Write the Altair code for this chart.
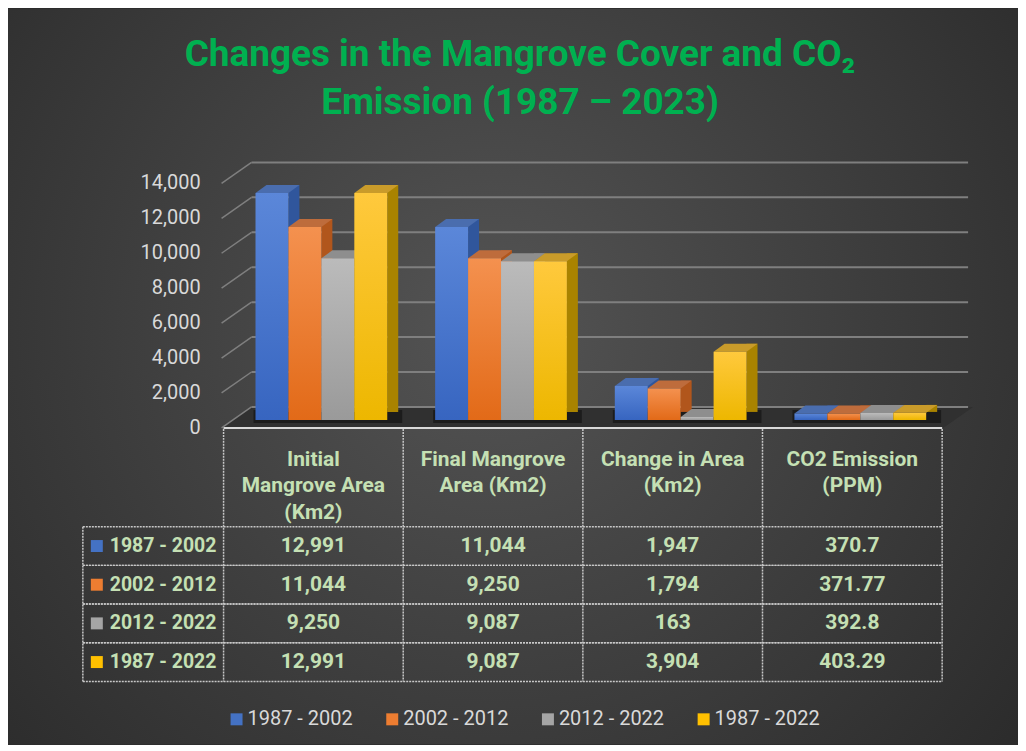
import altair as alt
import pandas as pd

# ---------------- data ----------------
categories = ["Initial Mangrove Area (Km2)", "Final Mangrove Area (Km2)",
              "Change in Area (Km2)", "CO2 Emission (PPM)"]
category_headers = ["Initial\nMangrove Area\n(Km2)", "Final Mangrove\nArea (Km2)",
                    "Change in Area\n(Km2)", "CO2 Emission\n(PPM)"]
periods = ["1987 - 2002", "2002 - 2012", "2012 - 2022", "1987 - 2022"]
initial_area = [12991, 11044, 9250, 12991]
final_area = [11044, 9250, 9087, 9087]
change_area = [1947, 1794, 163, 3904]
co2_emission = [370.7, 371.77, 392.8, 403.29]
y_ticks = [0, 2000, 4000, 6000, 8000, 10000, 12000, 14000]
title_lines = ["Changes in the Mangrove Cover and CO\u2082", "Emission (1987 \u2013 2023)"]

# ---------------- styles ----------------
FONT = "Roboto, 'Liberation Sans', sans-serif"
period_colors = ["#4472C4", "#ED7D31", "#A5A5A5", "#FFC000"]
front_top = ["#5B87D9", "#F4914F", "#BBBBBB", "#FFC93D"]
front_bottom = ["#3765C0", "#E26A18", "#9A9A9A", "#EDB700"]
side_cols = ["#30569C", "#B1561C", "#7A7A7A", "#A98300"]
top_cols = ["#4A6DAE", "#BE6C3C", "#8E8E8E", "#C99B2A"]
TABLE_TXT = "#C5E0B4"
GRID = "#7f7f7f"
TBL_LINE = "#c8c8c8"
TBL_FS = 21

W, H = 1012, 737
OFF = 8


def px(v):
    return v - OFF


SLOT, PAD, BW, DX, DY = 180, 32, 33, 11, 8

# ---------------- tables ----------------
series_values = [initial_area, final_area, change_area, co2_emission]
rows = []
for ci, (cat, vals) in enumerate(zip(categories, series_values)):
    for si, p in enumerate(periods):
        rows.append({"cat": cat, "ci": ci, "period": p, "si": si,
                     "value": vals[si], "label": f"{vals[si]:,}"})
df = pd.DataFrame(rows)
df_ticks = pd.DataFrame({"tick": y_ticks})
df_head = pd.DataFrame({"ci": list(range(len(categories))), "header": category_headers})
df_per = pd.DataFrame({"period": periods})
df_b = pd.DataFrame({"b": list(range(len(categories) + 1))})
one = pd.DataFrame({"a": [0]})

xs = alt.Scale(domain=[0, len(categories)], range=[px(224), px(944)], nice=False, zero=False)
ys = alt.Scale(domain=[0, 14000], range=[px(420), px(175)], nice=False)
yr = alt.Scale(type="band", domain=periods, range=[px(527), px(682)],
               paddingInner=0, paddingOuter=0)

base = alt.Chart(df).transform_calculate(
    x0=f"datum.ci + ({PAD} + {BW}*datum.si)/{SLOT}",
    x1=f"datum.ci + ({PAD} + {BW}*(datum.si+1))/{SLOT}",
    xc="datum.ci + 0.5",
)

# background
bg = alt.Chart(one).mark_rect(
    color=alt.RadialGradient(
        gradient="radial",
        stops=[alt.GradientStop(color="#545454", offset=0),
               alt.GradientStop(color="#232323", offset=1)],
        x1=0.48, y1=0.45, x2=0.48, y2=0.45, r1=0, r2=0.8)
).encode(x=alt.value(0), x2=alt.value(W), y=alt.value(0), y2=alt.value(H))

title = alt.Chart(one).mark_text(
    text=title_lines, font=FONT, fontSize=37, fontWeight="bold", color="#00B050",
    align="center", baseline="top", lineHeight=48
).encode(x=alt.value(px(521)), y=alt.value(px(36)))

# floor
hw = 376.5
fr = 346.5 / hw
fh = 10.5 / hw
FLOOR_PATH = f"M-1,{fh:.4f}L{fr:.4f},{fh:.4f}L1,{-fh:.4f}L{-fr:.4f},{-fh:.4f}Z"
floor = alt.Chart(one).mark_point(
    shape=FLOOR_PATH, size=(2 * hw) ** 2, filled=True, color="#303030", opacity=1, strokeWidth=0
).encode(x=alt.value(px(598.5)), y=alt.value(px(417.5)))

back_lines = alt.Chart(df_ticks).mark_rule(color=GRID, strokeWidth=2, yOffset=-13).encode(
    y=alt.Y("tick:Q", scale=ys, axis=None), x=alt.value(px(252)), x2=alt.value(px(970)))
slant_lines = alt.Chart(df_ticks).mark_rule(color=GRID, strokeWidth=1.5, yOffset=8, y2Offset=-13).encode(
    y=alt.Y("tick:Q", scale=ys, axis=None), y2="tick:Q",
    x=alt.value(px(222)), x2=alt.value(px(252)))
y_labels = alt.Chart(df_ticks).mark_text(
    align="right", baseline="middle", fontSize=20, font=FONT, color="#d9d9d9", yOffset=8
).encode(y=alt.Y("tick:Q", scale=ys, axis=None), x=alt.value(px(201)),
         text=alt.Text("tick:Q", format=","))

# shadows under groups
shadow = alt.Chart(df_head).transform_calculate(
    g0=f"datum.ci + {PAD}/{SLOT}", g1=f"datum.ci + ({PAD} + 4*{BW})/{SLOT}"
).mark_rect(color="black", opacity=0.4, xOffset=-2, x2Offset=DX + 4, yOffset=-DY - 2, y2Offset=3).encode(
    x=alt.X("g0:Q", scale=xs, axis=None), x2="g1:Q",
    y=alt.Y(datum=0, scale=ys, axis=None), y2=alt.datum(0))

# bars
hx = (BW + DX) / 2
TOP_PATH = (f"M-1,{DY/2/hx:.4f}L{(BW-hx)/hx:.4f},{DY/2/hx:.4f}"
            f"L1,{-DY/2/hx:.4f}L{(DX-hx)/hx:.4f},{-DY/2/hx:.4f}Z")
faces = []
for si in range(len(periods)):
    b = base.transform_filter(f"datum.si == {si}")
    side = b.mark_rect(color=side_cols[si], x2Offset=DX, yOffset=-DY, y2Offset=-DY).encode(
        x=alt.X("x1:Q", scale=xs, axis=None), x2="x1:Q",
        y=alt.Y("value:Q", scale=ys, axis=None), y2=alt.datum(0))
    top = b.mark_point(
        shape=TOP_PATH, size=(BW + DX) ** 2, filled=True, color=top_cols[si], opacity=1,
        strokeWidth=0, xOffset=hx, yOffset=-DY / 2
    ).encode(x=alt.X("x0:Q", scale=xs, axis=None), y=alt.Y("value:Q", scale=ys, axis=None))
    front = b.mark_rect(
        color=alt.LinearGradient(
            gradient="linear",
            stops=[alt.GradientStop(color=front_top[si], offset=0),
                   alt.GradientStop(color=front_bottom[si], offset=1)],
            x1=0, x2=0, y1=0, y2=1)
    ).encode(x=alt.X("x0:Q", scale=xs, axis=None), x2="x1:Q",
             y=alt.Y("value:Q", scale=ys, axis=None), y2=alt.datum(0))
    faces += [side, top, front]

# table header
head_line = alt.Chart(one).mark_rule(color="#d9d9d9", strokeWidth=2).encode(
    x=alt.value(px(224)), x2=alt.value(px(944)), y=alt.value(px(428)))
vlines = alt.Chart(df_b).mark_rule(color=TBL_LINE, strokeDash=[2, 1], strokeWidth=1.5).encode(
    x=alt.X("b:Q", scale=xs, axis=None), y=alt.value(px(429)), y2=alt.value(px(682)))
left_line = alt.Chart(one).mark_rule(color=TBL_LINE, strokeDash=[2, 1], strokeWidth=1.5).encode(
    x=alt.value(px(83)), y=alt.value(px(527)), y2=alt.value(px(682)))
headers = alt.Chart(df_head).transform_calculate(xc="datum.ci + 0.5").mark_text(
    lineBreak="\n", baseline="top", align="center", fontSize=TBL_FS, fontWeight="bold",
    font=FONT, color=TABLE_TXT, lineHeight=26.5
).encode(x=alt.X("xc:Q", scale=xs, axis=None), y=alt.value(px(449)), text="header:N")

upper = alt.layer(bg, title, floor, back_lines, slant_lines, y_labels, shadow, *faces,
                  head_line, vlines, left_line, headers)

# table body
row_top = alt.Chart(df_per).mark_rule(color=TBL_LINE, strokeDash=[2, 1], strokeWidth=1.5).encode(
    y=alt.Y("period:N", scale=yr, axis=None, bandPosition=0),
    x=alt.value(px(83)), x2=alt.value(px(944)))
row_bot = alt.Chart(df_per).mark_rule(color=TBL_LINE, strokeDash=[2, 1], strokeWidth=1.5).encode(
    y=alt.Y("period:N", scale=yr, axis=None, bandPosition=1),
    x=alt.value(px(83)), x2=alt.value(px(944)))
swatches = alt.Chart(df_per).mark_point(shape="square", filled=True, size=144, opacity=1, strokeWidth=0).encode(
    y=alt.Y("period:N", scale=yr, axis=None, bandPosition=0.5),
    x=alt.value(px(97)),
    color=alt.Color("period:N", scale=alt.Scale(domain=periods, range=period_colors),
                    legend=alt.Legend(orient="none", legendX=px(227), legendY=px(710),
                                      direction="horizontal", title=None, symbolType="square",
                                      symbolSize=144, symbolStrokeWidth=0, labelFontSize=20,
                                      labelColor="#d9d9d9", labelFont=FONT, columnPadding=29,
                                      labelOffset=1, padding=0)))
row_labels = alt.Chart(df_per).mark_text(
    align="left", baseline="middle", fontSize=19.5, fontWeight="bold", font=FONT, color=TABLE_TXT
).encode(y=alt.Y("period:N", scale=yr, axis=None, bandPosition=0.5),
         x=alt.value(px(110)), text="period:N")
cells = base.mark_text(
    align="center", baseline="middle", fontSize=TBL_FS, fontWeight="bold", font=FONT, color=TABLE_TXT
).encode(x=alt.X("xc:Q", scale=xs, axis=None),
         y=alt.Y("period:N", scale=yr, axis=None, bandPosition=0.5),
         text="label:N")

lower = alt.layer(row_top, row_bot, swatches, row_labels, cells)

chart = alt.layer(upper, lower).resolve_scale(y="independent").properties(
    width=W, height=H, autosize=alt.AutoSizeParams(type="none"), padding=0,
    background="#2b2b2b"
).configure_view(stroke=None)

chart.save("out.html", embed_options={"renderer": "svg", "actions": False})
